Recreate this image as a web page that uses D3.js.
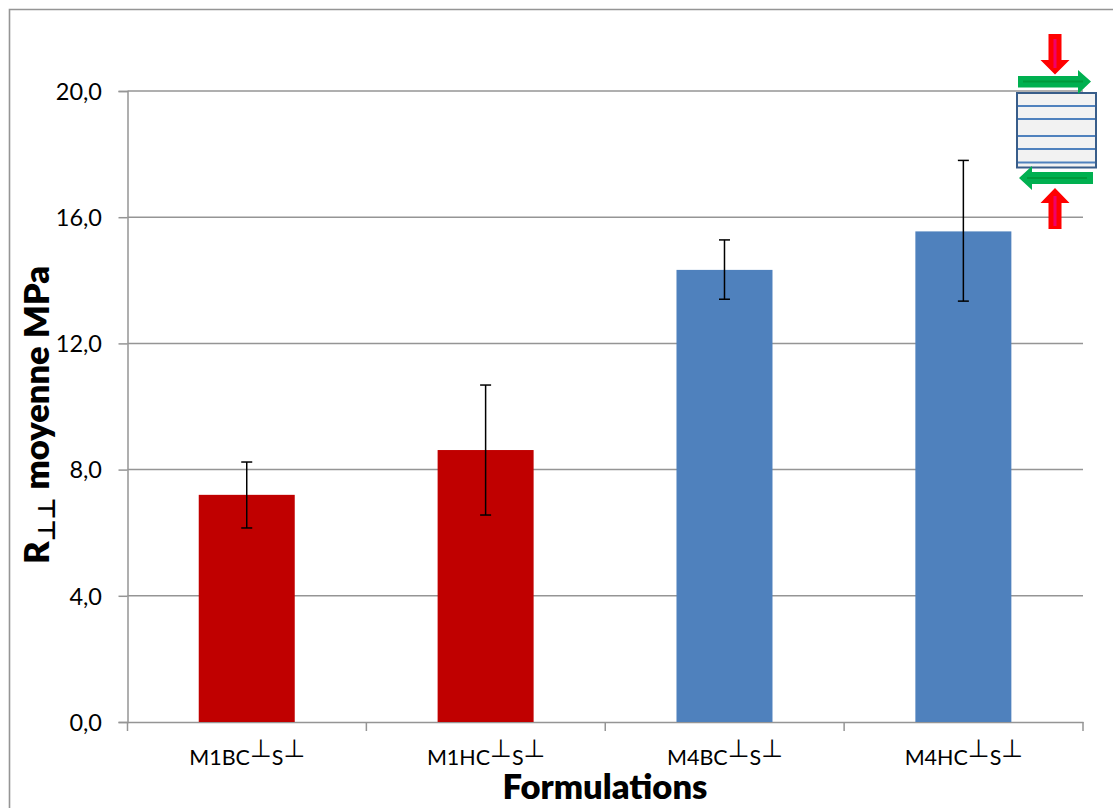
<!DOCTYPE html>
<html><head><meta charset="utf-8">
<script src="https://cdn.jsdelivr.net/npm/d3@7"></script>
<style>html,body{margin:0;padding:0;background:#fff}svg{display:block}text{font-family:Lato,"Open Sans",sans-serif;fill:#000}</style>
</head><body><svg id="c" width="1113" height="808"></svg>
<script>
const categories=["M1BC","M1HC","M4BC","M4HC"];
const values=[7.2,8.62,14.33,15.55];
const errLow=[6.15,6.56,13.4,13.34];
const errHigh=[8.24,10.68,15.28,17.8];
const colors=["#C00000","#C00000","#4F81BD","#4F81BD"];
const yTicks=[0,4,8,12,16,20];
const fmt=v=>v.toFixed(1).replace(".",",");
const svg=d3.select("#c");
const grey="#959595";
svg.append("path").attr("d","M9.5 808V9.5H1113").attr("fill","none").attr("stroke",grey).attr("stroke-width",1.6);
const x=d3.scaleBand().domain(categories).range([127.5,1083]).paddingInner(0).paddingOuter(0);
const y=d3.scaleLinear().domain([0,20]).range([722,91]);
svg.append("g").selectAll("line").data(yTicks.filter(d=>d>0)).join("line")
 .attr("x1",127.5).attr("x2",1083).attr("y1",d=>y(d)).attr("y2",d=>y(d)).attr("stroke",grey).attr("stroke-width",1.5);
const ya=svg.append("g").attr("transform","translate(127.5,0)").call(d3.axisLeft(y).tickValues(yTicks).tickFormat(fmt).tickSize(9).tickPadding(16.5));
ya.selectAll("path,line").attr("stroke",grey).attr("stroke-width",1.5);
ya.selectAll("text").attr("font-size",23.5).style("font-family","Lato").attr("dy","0.35em");
const xa=svg.append("g").attr("transform","translate(0,722)").call(d3.axisBottom(x).tickValues([]).tickSizeOuter(0));
xa.select("path").attr("stroke",grey).attr("stroke-width",1.5);
xa.selectAll("line.b").data(d3.range(5)).join("line").attr("class","b")
 .attr("x1",i=>127.5+i*x.bandwidth()).attr("x2",i=>127.5+i*x.bandwidth()).attr("y1",0).attr("y2",9).attr("stroke",grey).attr("stroke-width",1.5);
const barW=96;
const cx=d=>x(d)+x.bandwidth()/2-0.2;
svg.append("g").selectAll("rect").data(categories).join("rect")
 .attr("x",d=>cx(d)-barW/2).attr("width",barW)
 .attr("y",(d,i)=>y(values[i])).attr("height",(d,i)=>y(0)-y(values[i]))
 .attr("fill",(d,i)=>colors[i]);
const eb=svg.append("g").attr("stroke","#000").attr("stroke-width",1.5);
categories.forEach((c,i)=>{
 eb.append("line").attr("x1",cx(c)).attr("x2",cx(c)).attr("y1",y(errLow[i])).attr("y2",y(errHigh[i]));
 [errLow[i],errHigh[i]].forEach(v=>eb.append("line").attr("x1",cx(c)-5.5).attr("x2",cx(c)+5.5).attr("y1",y(v)).attr("y2",y(v)));
});
const perp="\u22A5";
const lab=svg.append("g").selectAll("text").data(categories).join("text")
 .attr("x",d=>cx(d)+0.5).attr("y",765).attr("text-anchor","middle").attr("font-size",21.5);
lab.append("tspan").text(d=>d);
lab.append("tspan").text(perp).attr("dy",-8).attr("font-size",25).style("font-family","DejaVu Sans");
lab.append("tspan").text("S").attr("dy",8);
lab.append("tspan").text(perp).attr("dy",-8).attr("font-size",25).style("font-family","DejaVu Sans");
svg.append("text").attr("x",605).attr("y",799).attr("text-anchor","middle").attr("font-size",34.5).attr("font-weight",800).text("Formulations");
const yt=svg.append("text").attr("transform","translate(49,415) rotate(-90)").attr("text-anchor","middle").attr("font-size",34.5).attr("font-weight",800);
yt.append("tspan").text("R");
yt.append("tspan").text(perp+perp).attr("dy",6).attr("font-size",24).style("font-family","DejaVu Sans");
yt.append("tspan").text(" moyenne MPa").attr("dy",-6);
const ic=svg.append("g");
ic.append("rect").attr("x",1017).attr("y",93).attr("width",79).attr("height",74.5).attr("fill","#F2F2F2").attr("stroke","#385D8A").attr("stroke-width",2);
[106,119,136,149,162.5].forEach(v=>ic.append("line").attr("x1",1018).attr("x2",1095).attr("y1",v).attr("y2",v).attr("stroke","#4F81BD").attr("stroke-width",2));
const red="#FF0000",green="#00B050";
ic.append("path").attr("d","M1048.5 34H1061.5V60H1069.5L1055 74.5L1040.5 60H1048.5Z").attr("fill",red);
ic.append("path").attr("d","M1048.5 229H1061.5V203H1069.5L1055 188L1040.5 203H1048.5Z").attr("fill",red);
ic.append("path").attr("d","M1018 76H1078V70L1091 81.5L1078 94V87.5H1018Z").attr("fill",green);
ic.append("path").attr("d","M1093 172H1032V166L1019 178L1032 190V184H1093Z").attr("fill",green);
ic.append("line").attr("x1",1023).attr("x2",1083).attr("y1",81.5).attr("y2",81.5).attr("stroke","#009A3C").attr("stroke-width",2);
ic.append("line").attr("x1",1027).attr("x2",1087).attr("y1",178).attr("y2",178).attr("stroke","#009A3C").attr("stroke-width",2);
ic.append("line").attr("x1",1055).attr("x2",1055).attr("y1",39).attr("y2",68).attr("stroke","#F0006A").attr("stroke-width",3);
ic.append("line").attr("x1",1055).attr("x2",1055).attr("y1",196).attr("y2",226).attr("stroke","#F0006A").attr("stroke-width",3);
</script></body></html>
